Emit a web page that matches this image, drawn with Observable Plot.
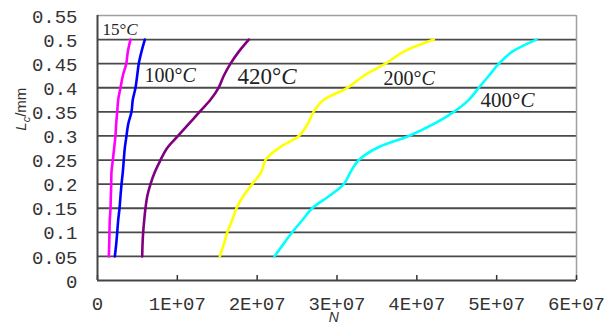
<!DOCTYPE html>
<html>
<head>
<meta charset="utf-8">
<script src="https://cdn.jsdelivr.net/npm/d3@7"></script>
<script src="https://cdn.jsdelivr.net/npm/@observablehq/plot@0.6"></script>
<style>
  html, body { margin: 0; padding: 0; background: #fff; }
</style>
</head>
<body>
<div id="chart"></div>
<script>
// ---- data ----
// crack length Lc (mm) levels at which N is read
const levels = [0.05, 0.075, 0.1, 0.125, 0.15, 0.175, 0.2, 0.225, 0.25, 0.275,
                0.3, 0.325, 0.35, 0.375, 0.4, 0.425, 0.45, 0.475, 0.5];
// number of cycles N, in millions, one value per level
const n15  = [1.42, 1.47, 1.50, 1.54, 1.63, 1.67, 1.72, 1.75, 1.92, 2.09,
              2.25, 2.34, 2.47, 2.59, 2.88, 3.17, 3.60, 3.80, 4.13];
const n100 = [2.17, 2.34, 2.47, 2.59, 2.76, 2.88, 3.01, 3.17, 3.29, 3.42,
              3.63, 3.85, 4.26, 4.42, 4.76, 4.97, 5.17, 5.51, 5.93];
const n420 = [5.60, 5.64, 5.72, 5.85, 6.01, 6.23, 6.64, 7.18, 7.89, 8.73,
              10.08, 11.44, 12.78, 14.15, 15.16, 15.82, 16.66, 17.70, 18.95];
const n200 = [15.32, 15.82, 16.25, 16.87, 17.41, 18.25, 19.38, 20.51, 21.05, 22.71,
              25.22, 26.34, 27.06, 28.35, 31.30, 33.36, 36.08, 38.37, 42.13];
const n400 = [22.17, 23.26, 24.39, 25.64, 26.89, 28.97, 30.85, 31.69, 32.73, 35.00,
              39.00, 42.13, 44.63, 46.51, 47.76, 49.02, 50.27, 51.95, 54.99];
const nUnit = 1e6;

const seriesNames = ["15°C", "100°C", "420°C", "200°C", "400°C"];
const seriesValues = [n15, n100, n420, n200, n400];
const seriesColors = ["#ff00ff", "#0000ff", "#800080", "#ffff00", "#00ffff"];

const yTicks = [0, 0.05, 0.1, 0.15, 0.2, 0.25, 0.3, 0.35, 0.4, 0.45, 0.5, 0.55];
const gridLevels = [0.05, 0.1, 0.15, 0.2, 0.25, 0.3, 0.35, 0.4, 0.45, 0.5];
const xTicks = [0, 1e7, 2e7, 3e7, 4e7, 5e7, 6e7];

// curve labels: anchor (left end of baseline) in data units
const labelN = [0.63e6, 5.89e6, 17.54e6, 35.83e6, 47.98e6];
const labelL = [0.5085, 0.413, 0.408, 0.405, 0.361];
const labelSizes = [17, 20, 23, 20, 21];

// ---- build tables ----
const rows = seriesNames.flatMap((s, k) =>
  levels.map((L, i) => ({series: s, L, N: seriesValues[k][i] * nUnit})));
const labels = seriesNames.map((s, k) => ({text: s, N: labelN[k], L: labelL[k], size: labelSizes[k]}));

const W = 605, H = 326, mL = 97, mT = 15, mR = 29, mB = 46;
const frameH = H - mT - mB;

const fmtY = d => d === 0 ? "0" : String(+d.toFixed(2));
const fmtX = d => d === 0 ? "0" : `${Math.round(d / 1e7)}E+07`;

const chart = Plot.plot({
  width: W,
  height: H,
  marginLeft: mL,
  marginTop: mT,
  marginRight: mR,
  marginBottom: mB,
  style: {background: "#fff", color: "#333", fontFamily: "Liberation Mono", fontSize: "19px"},
  x: {domain: [0, 6e7]},
  y: {domain: [0, 0.55]},
  color: {domain: seriesNames, range: seriesColors},
  marks: [
    // horizontal gridlines
    Plot.ruleY(gridLevels, {stroke: "#4a4a4a", strokeWidth: 1.8}),
    // top and right border
    Plot.ruleY([0.55], {stroke: "#a0a0a0", strokeWidth: 1.5}),
    Plot.ruleX([6e7], {stroke: "#a0a0a0", strokeWidth: 1.5}),
    // inward x ticks
    Plot.tickX(xTicks, {x: d => d, insetTop: frameH - 5, stroke: "#333", strokeWidth: 1.5}),
    // axis lines
    Plot.ruleX([0], {stroke: "#444", strokeWidth: 2}),
    Plot.ruleY([0], {stroke: "#444", strokeWidth: 2}),
    // axes (labels only)
    Plot.axisY(yTicks, {tickSize: 0, tickPadding: 20, tickFormat: fmtY, label: null,
      fontFamily: "Liberation Mono", fontSize: 19, fill: "#333", dy: 1}),
    Plot.axisX(xTicks, {tickSize: 0, tickPadding: 16, tickFormat: fmtX, label: null,
      fontFamily: "Liberation Mono", fontSize: 19, fill: "#333"}),
    // curves
    Plot.line(rows, {x: "N", y: "L", z: "series", stroke: "series", strokeWidth: 2.6, curve: "catmull-rom"}),
    // curve labels
    Plot.text(labels, {x: "N", y: "L", text: "text", fontSize: "size", textAnchor: "start",
      lineAnchor: "bottom", fontFamily: "Liberation Serif", fill: "#222"}),
    // axis titles
    Plot.text(["N"], {x: [2.96e7], frameAnchor: "bottom", dy: 41, fontStyle: "italic",
      fontFamily: "Liberation Sans", fontSize: 14, fill: "#333"}),
    Plot.text(["Lc/mm"], {y: [0.311], frameAnchor: "left", dx: -76, rotate: -90,
      fontFamily: "Liberation Sans", fontSize: 15, fill: "#333"})
  ]
});

// rich text: italic C in labels, subscript c in the y-axis title
d3.select(chart).selectAll("text").each(function () {
  const s = this.textContent;
  if (/^\d+°C$/.test(s)) {
    this.textContent = s.slice(0, -1);
    d3.select(this).append("tspan").attr("font-style", "italic").text("C");
  } else if (s === "Lc/mm") {
    this.textContent = "";
    const t = d3.select(this);
    t.append("tspan").attr("font-style", "italic").text("L");
    t.append("tspan").attr("font-style", "italic").attr("font-size", "11px").attr("dy", "4").text("c");
    t.append("tspan").attr("dy", "-4").text("/mm");
  }
});

document.getElementById("chart").appendChild(chart);
</script>
</body>
</html>
